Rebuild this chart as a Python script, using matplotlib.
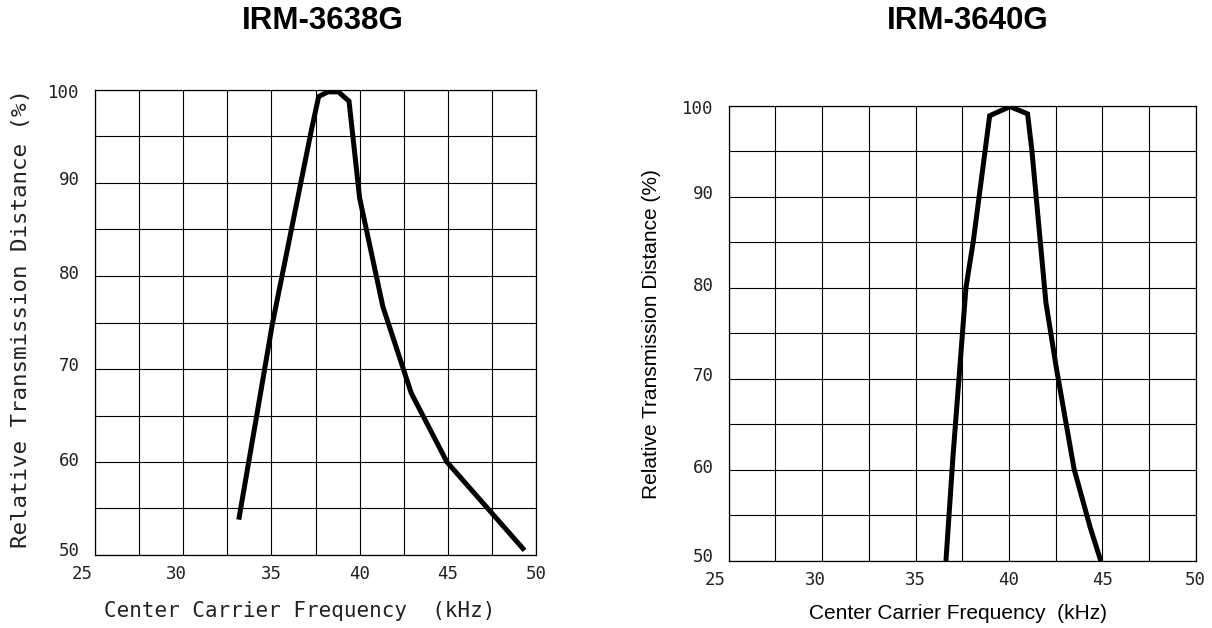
import matplotlib
matplotlib.use("Agg")
import matplotlib.pyplot as plt
from matplotlib.transforms import ScaledTranslation

# values
freq_3638 = [33.15, 34.15, 35.05, 37.28, 37.68, 38.2, 38.8, 39.4, 40.0, 41.32, 42.93, 44.95, 49.35]
dist_3638 = [53.8, 64.8, 74.8, 95.8, 99.3, 99.8, 99.8, 98.8, 88.4, 76.7, 67.4, 60.0, 50.5]

freq_3640 = [36.63, 37.0, 37.7, 38.1, 38.97, 40.06, 41.0, 41.23, 41.98, 42.54, 43.49, 44.35, 44.92]
dist_3640 = [50.0, 61.3, 80.0, 85.2, 98.9, 99.9, 99.1, 95.1, 78.4, 71.2, 60.1, 53.7, 50.0]

titles = ["IRM-3638G", "IRM-3640G"]
xticks = [25, 30, 35, 40, 45, 50]
yticks = [50, 60, 70, 80, 90, 100]
ylabel = "Relative Transmission Distance (%)"
xlabel = "Center Carrier Frequency  (kHz)"

W, H = 1212, 628
fig = plt.figure(figsize=(W / 100, H / 100), dpi=100)

# small pixel nudges of the tick labels as they are placed in the original
x_nudge = [-13, -7, 0, 0, 0, 0]
y_nudge = [6, 3.5, 5, 4, 5, -1.5]


def px_axes(x0, y0, x1, y1):
    return fig.add_axes([x0 / W, 1 - y1 / H, (x1 - x0) / W, (y1 - y0) / H])


def setup(ax, fx, fy):
    ax.set_xlim(25, 50)
    ax.set_ylim(50, 100)
    ax.set_xticks([25 + 2.5 * i for i in range(11)], minor=True)
    ax.set_yticks([50 + 5 * i for i in range(11)], minor=True)
    ax.set_xticks(xticks)
    ax.set_yticks(yticks)
    ax.set_xticklabels([str(v) for v in xticks])
    ax.set_yticklabels([str(v) for v in yticks])
    ax.grid(True, which="both", color="black", linewidth=0.8)
    ax.set_axisbelow(True)
    ax.tick_params(which="both", length=0)
    ax.tick_params(axis="x", pad=7)
    ax.tick_params(axis="y", pad=11)
    for lab in ax.get_xticklabels() + ax.get_yticklabels():
        lab.set_fontfamily("DejaVu Sans Mono")
        lab.set_fontsize(12.5)
        lab.set_color("#222222")
    for lab, dy in zip(ax.get_yticklabels(), y_nudge):
        lab.set_transform(lab.get_transform() + ScaledTranslation(0, dy / 100, fig.dpi_scale_trans))
    for lab, dx in zip(ax.get_xticklabels(), x_nudge):
        lab.set_transform(lab.get_transform() + ScaledTranslation(dx / 100, 0, fig.dpi_scale_trans))
    for s in ax.spines.values():
        s.set_linewidth(0.9)
        s.set_color("black")
    ax.plot(fx, fy, color="black", linewidth=3.6, solid_joinstyle="miter", solid_capstyle="butt")


ax1 = px_axes(95, 90, 536, 555)
setup(ax1, freq_3638, dist_3638)
ax2 = px_axes(728.7, 105.7, 1195.7, 561)
setup(ax2, freq_3640, dist_3640)

fig.text(323 / W, 1 - 21 / H, titles[0], ha="center", va="center",
         fontsize=22.5, fontweight="bold", family="Liberation Sans")
fig.text(968 / W, 1 - 21 / H, titles[1], ha="center", va="center",
         fontsize=22.5, fontweight="bold", family="Liberation Sans")

# left chart uses a plotter-style mono font
fig.text(21 / W, 1 - 319 / H, ylabel, rotation=90, ha="center", va="center",
         fontsize=16.2, family="DejaVu Sans Mono", color="#222222")
fig.text(300 / W, 1 - 617 / H, xlabel, ha="center", va="baseline",
         fontsize=15, family="DejaVu Sans Mono", color="#222222")

fig.text(651.5 / W, 1 - 334 / H, ylabel, rotation=90, ha="center", va="center",
         fontsize=15, family="Liberation Sans")
fig.text(958 / W, 1 - 619 / H, xlabel, ha="center", va="baseline",
         fontsize=15, family="Liberation Sans")

fig.savefig("out.png", dpi=100, facecolor="white")
